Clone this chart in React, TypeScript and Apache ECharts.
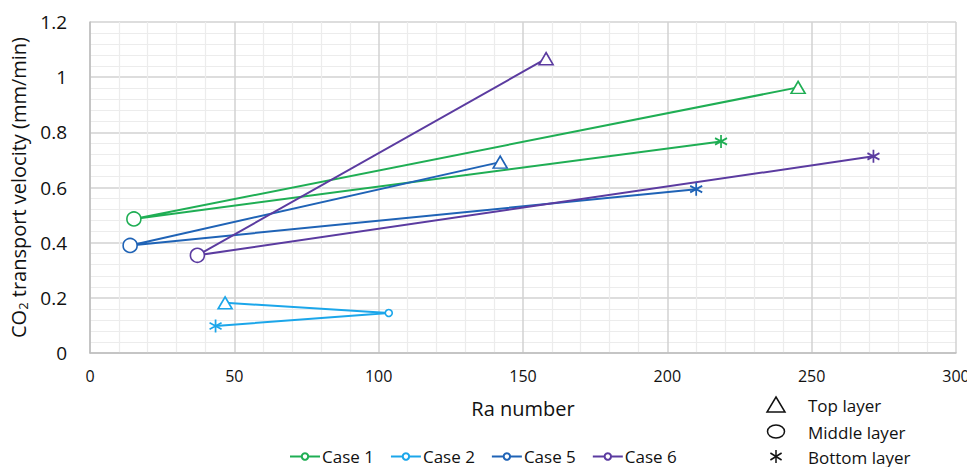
import React, { useEffect, useRef } from "react";
import * as echarts from "echarts";

// Each case: points in order Top layer -> Middle layer -> Bottom layer, as [Ra, velocity]
const caseNames = ["Case 1", "Case 2", "Case 5", "Case 6"];
const caseColors = ["#1fae54", "#1ba6ea", "#1f63b6", "#5b3ba0"];
const case1: number[][] = [[245.3, 0.963], [15.2, 0.486], [218.6, 0.767]];
const case2: number[][] = [[46.8, 0.182], [103.5, 0.145], [43.5, 0.098]];
const case5: number[][] = [[142.1, 0.692], [13.9, 0.39], [210.0, 0.594]];
const case6: number[][] = [[158.0, 1.067], [37.2, 0.354], [271.4, 0.713]];
const caseData = [case1, case2, case5, case6];
const layerNames = ["Top layer", "Middle layer", "Bottom layer"];

const FONT = "'Open Sans', 'Noto Sans', sans-serif";
const STAR = "path://M0,-1L0,1M-0.866,-0.5L0.866,0.5M-0.866,0.5L0.866,-0.5";

function layerSymbol(layer: number, small: boolean) {
  if (layer === 0) return { symbol: "triangle", symbolSize: [14, 12] };
  if (layer === 1) return { symbol: "circle", symbolSize: small ? 7 : 14 };
  return { symbol: STAR, symbolSize: [12, 13] };
}

export default function App() {
  const ref = useRef<HTMLDivElement>(null);

  useEffect(() => {
    if (!ref.current) return;
    const chart = echarts.init(ref.current, undefined, { renderer: "svg" });

    const series = caseNames.map((name, i) => ({
      name,
      type: "line",
      symbol: "emptyCircle",
      symbolSize: 6,
      lineStyle: { color: caseColors[i], width: 2 },
      itemStyle: { color: caseColors[i] },
      z: 2,
      data: caseData[i].map((p, layer) => ({
        value: p,
        ...layerSymbol(layer, i === 1),
        itemStyle: {
          color: "#ffffff",
          borderColor: caseColors[i],
          borderWidth: layer === 2 ? 1.8 : 1.6,
        },
      })),
    }));

    const lx = 776;
    const markerStyle = { stroke: "#111", lineWidth: 1.5, fill: "none" };
    const textStyle = { fill: "#111", font: `17px ${FONT}`, verticalAlign: "middle" as const };

    chart.setOption({
      animation: false,
      backgroundColor: "#ffffff",
      grid: {
        left: 90,
        right: 11,
        top: 22,
        bottom: 114,
        containLabel: false,
        outerBoundsMode: "none",
      },
      xAxis: {
        type: "value",
        min: 0,
        max: 300,
        interval: 50,
        name: "Ra number",
        nameLocation: "middle",
        nameGap: 45,
        nameTextStyle: { fontFamily: FONT, fontSize: 20, color: "#111" },
        axisLine: { show: true, lineStyle: { color: "#bdbdbd", width: 1.5 } },
        axisTick: { show: false },
        axisLabel: { fontFamily: FONT, fontSize: 16, color: "#111", margin: 15 },
        splitLine: { show: true, lineStyle: { color: "#d2d2d2", width: 1.5 } },
        minorTick: { show: false, splitNumber: 5 },
        minorSplitLine: { show: true, lineStyle: { color: "#ececec", width: 1.2 } },
      },
      yAxis: {
        type: "value",
        min: 0,
        max: 1.2,
        interval: 0.2,
        name: "{t|CO}{s|2}{t| transport velocity (mm/min)}",
        nameLocation: "middle",
        nameGap: 58,
        nameTextStyle: {
          color: "#111",
          rich: {
            t: { fontFamily: FONT, fontSize: 20, color: "#111" },
            s: { fontFamily: FONT, fontSize: 13, color: "#111", padding: [8, 0, 0, 0] },
          },
        },
        axisLine: { show: true, lineStyle: { color: "#bdbdbd", width: 1.5 } },
        axisTick: { show: false },
        axisLabel: {
          fontFamily: FONT,
          fontSize: 19,
          color: "#111",
          margin: 23,
          formatter: (v: number) => String(Math.round(v * 10) / 10),
        },
        splitLine: { show: true, lineStyle: { color: "#d2d2d2", width: 1.5 } },
        minorTick: { show: false, splitNumber: 5 },
        minorSplitLine: { show: true, lineStyle: { color: "#ececec", width: 1.2 } },
      },
      legend: {
        data: caseNames,
        left: 284,
        top: 443,
        itemWidth: 30,
        itemHeight: 8,
        itemGap: 16,
        textStyle: { fontFamily: FONT, fontSize: 17, color: "#111", padding: [0, 0, 0, -3] },
      },
      series,
      graphic: [
        {
          type: "polygon",
          shape: { points: [[lx, 397], [lx + 9, 412], [lx - 9, 412]] },
          style: markerStyle,
        },
        { type: "ellipse", shape: { cx: lx, cy: 431.5, rx: 8.5, ry: 6.5 }, style: markerStyle },
        {
          type: "group",
          children: [
            { type: "line", shape: { x1: lx, y1: 450, x2: lx, y2: 463 }, style: markerStyle },
            { type: "line", shape: { x1: lx - 5.6, y1: 453, x2: lx + 5.6, y2: 460 }, style: markerStyle },
            { type: "line", shape: { x1: lx - 5.6, y1: 460, x2: lx + 5.6, y2: 453 }, style: markerStyle },
          ],
        },
        ...layerNames.map((t, k) => ({
          type: "text",
          x: 808,
          y: [405, 432, 457][k],
          style: { text: t, ...textStyle },
        })),
      ],
    });

    return () => chart.dispose();
  }, []);

  return (
    <div
      ref={ref}
      style={{ position: "fixed", left: 0, top: 0, width: 967, height: 467 }}
    />
  );
}
